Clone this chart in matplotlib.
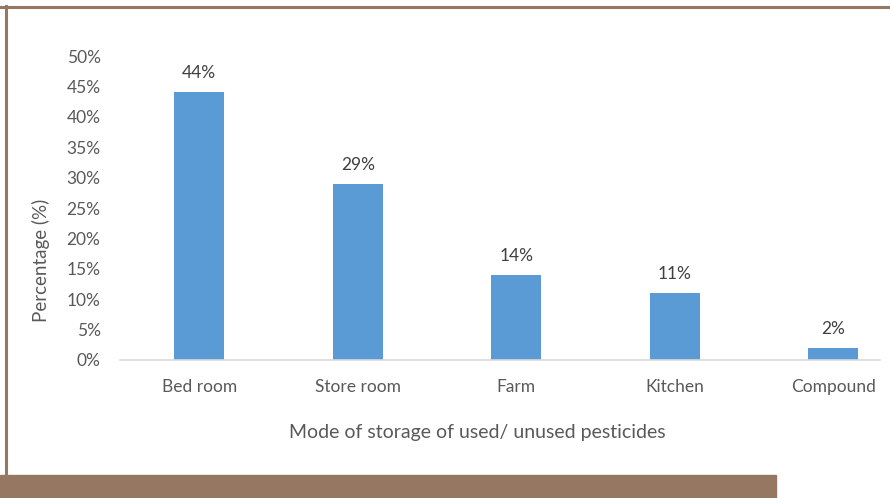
"""Bar chart: mode of storage of used/unused pesticides."""

import matplotlib
matplotlib.use("Agg")
import matplotlib.pyplot as plt
from matplotlib.lines import Line2D
from matplotlib.patches import Rectangle
from matplotlib.ticker import PercentFormatter

plt.rcParams['font.family'] = ['Lato', 'DejaVu Sans']

# data
categories = ['Bed room', 'Store room', 'Farm', 'Kitchen', 'Compound']
values = [44, 29, 14, 11, 2]
yticks = [0, 5, 10, 15, 20, 25, 30, 35, 40, 45, 50]

BAR_COLOR = '#5B9BD5'
FRAME_COLOR = '#967761'
TICK_COLOR = '#595959'
LABEL_COLOR = '#404040'

W, H = 890, 498
fig = plt.figure(figsize=(W / 100, H / 100), dpi=100)
ax = fig.add_axes([120 / W, 138 / H, 760 / W, 304 / H])

x = range(len(categories))
ax.bar(x, values, width=0.315, color=BAR_COLOR, zorder=2)

for xi, v in zip(x, values):
    ax.annotate(f'{v}%', (xi, v), xytext=(0, 8), textcoords='offset points',
                ha='center', va='bottom', fontsize=12.5, color=LABEL_COLOR)

ax.set_xlim(-0.5, 4.295)
ax.set_ylim(0, 50)
ax.set_yticks(yticks)
ax.yaxis.set_major_formatter(PercentFormatter(decimals=0))
ax.set_xticks(list(x))
ax.set_xticklabels(categories)
ax.tick_params(axis='both', length=0, labelsize=12.5, colors=TICK_COLOR)
ax.tick_params(axis='x', pad=14)
ax.tick_params(axis='y', pad=14)

for side in ['top', 'right', 'left']:
    ax.spines[side].set_visible(False)
ax.spines['bottom'].set_color('#D9D9D9')
ax.spines['bottom'].set_linewidth(1.2)

# axis titles placed in figure pixels, as in the reference
fig.text(477 / W, 1 - 432 / H, 'Mode of storage of used/ unused pesticides',
         fontsize=14, color=TICK_COLOR, ha='center', va='center')
fig.text(41 / W, 1 - 260 / H, 'Percentage (%)', rotation=90,
         fontsize=13.5, color=TICK_COLOR, ha='center', va='center')

# brown frame: top and left rules plus the footer band
fig.add_artist(Line2D([0, 1], [1 - 7 / H, 1 - 7 / H], color=FRAME_COLOR,
                      linewidth=2.2, transform=fig.transFigure))
fig.add_artist(Line2D([6 / W, 6 / W], [23 / H, 1 - 6 / H],
                      color=FRAME_COLOR, linewidth=2.2,
                      transform=fig.transFigure))
fig.add_artist(Rectangle((0, 0), 776 / W, 23 / H, color=FRAME_COLOR,
                         transform=fig.transFigure))

fig.savefig('out.png', dpi=100)
